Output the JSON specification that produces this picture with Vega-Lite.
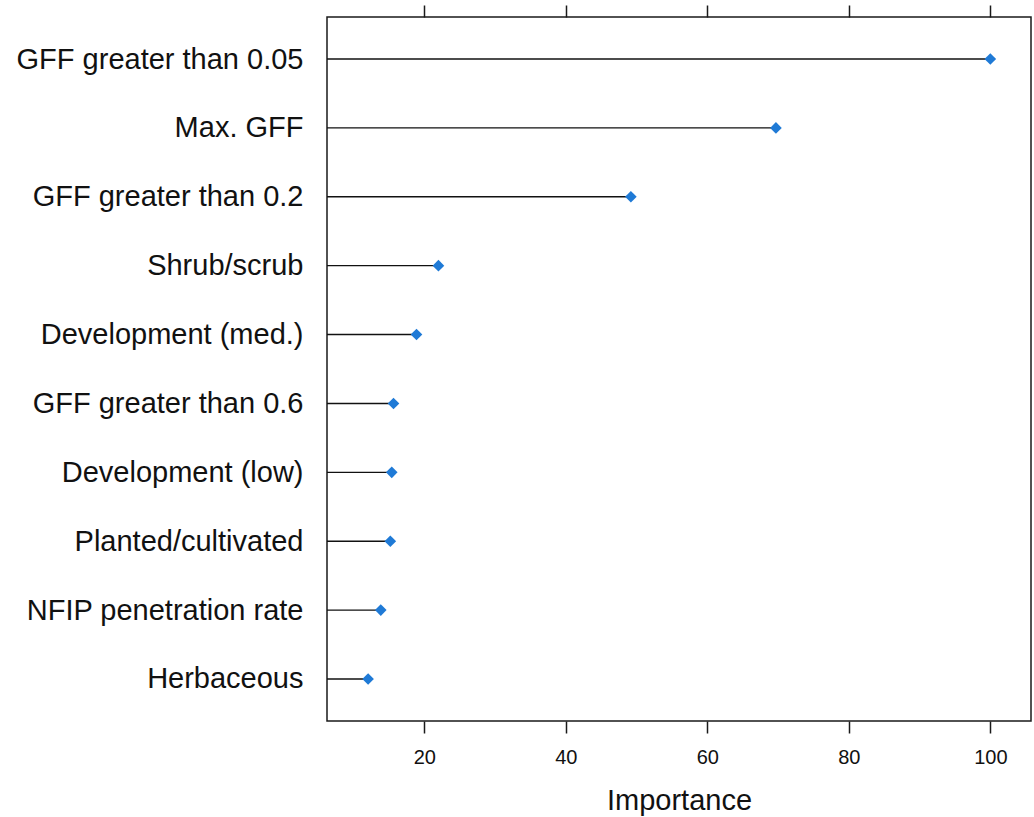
{
  "$schema": "https://vega.github.io/schema/vega-lite/v6.json",
  "width": 704,
  "height": 704,
  "autosize": "none",
  "padding": {"left": 327, "top": 17, "right": 3, "bottom": 96},
  "background": "white",
  "config": {
    "view": {"stroke": "#1a1a1a", "strokeWidth": 1.5},
    "font": "Liberation Sans",
    "axis": {"grid": false, "domain": false, "labelFont": "Liberation Sans", "titleFont": "Liberation Sans", "labelColor": "#111111", "titleColor": "#111111", "titleFontWeight": "normal"}
  },
  "data": {
    "values": [
      {"variable": "GFF greater than 0.05", "importance": 100.0},
      {"variable": "Max. GFF", "importance": 69.7},
      {"variable": "GFF greater than 0.2", "importance": 49.2},
      {"variable": "Shrub/scrub", "importance": 22.0},
      {"variable": "Development (med.)", "importance": 18.9},
      {"variable": "GFF greater than 0.6", "importance": 15.65},
      {"variable": "Development (low)", "importance": 15.4},
      {"variable": "Planted/cultivated", "importance": 15.2},
      {"variable": "NFIP penetration rate", "importance": 13.85},
      {"variable": "Herbaceous", "importance": 12.06}
    ]
  },
  "encoding": {
    "y": {
      "field": "variable",
      "type": "nominal",
      "sort": null,
      "scale": {"type": "point", "padding": 0.61},
      "axis": {"title": null, "ticks": false, "tickSize": 0, "labelPadding": 24, "labelFontSize": 29, "labelLimit": 400}
    }
  },
  "layer": [
    {
      "mark": {"type": "rule", "color": "#111111", "strokeWidth": 1.4},
      "encoding": {
        "x": {
          "field": "importance",
          "type": "quantitative",
          "scale": {"domain": [6.25, 105.75], "nice": false, "zero": false},
          "axis": {"orient": "top", "title": null, "labels": false, "values": [20, 40, 60, 80, 100], "tickSize": 12, "tickWidth": 1.5, "tickColor": "#1a1a1a"}
        },
        "x2": {"datum": 6.25}
      }
    },
    {
      "mark": {"type": "point", "shape": "diamond", "filled": true, "size": 135, "color": "#1f7ad6", "opacity": 1},
      "encoding": {
        "x": {
          "field": "importance",
          "type": "quantitative",
          "scale": {"domain": [6.25, 105.75], "nice": false, "zero": false},
          "axis": {"orient": "bottom", "title": "Importance", "values": [20, 40, 60, 80, 100], "tickSize": 12, "tickWidth": 1.5, "tickColor": "#1a1a1a", "labelFontSize": 20, "labelPadding": 14, "titleFontSize": 29, "titlePadding": 19}
        }
      }
    }
  ],
  "resolve": {"axis": {"x": "independent"}}
}
